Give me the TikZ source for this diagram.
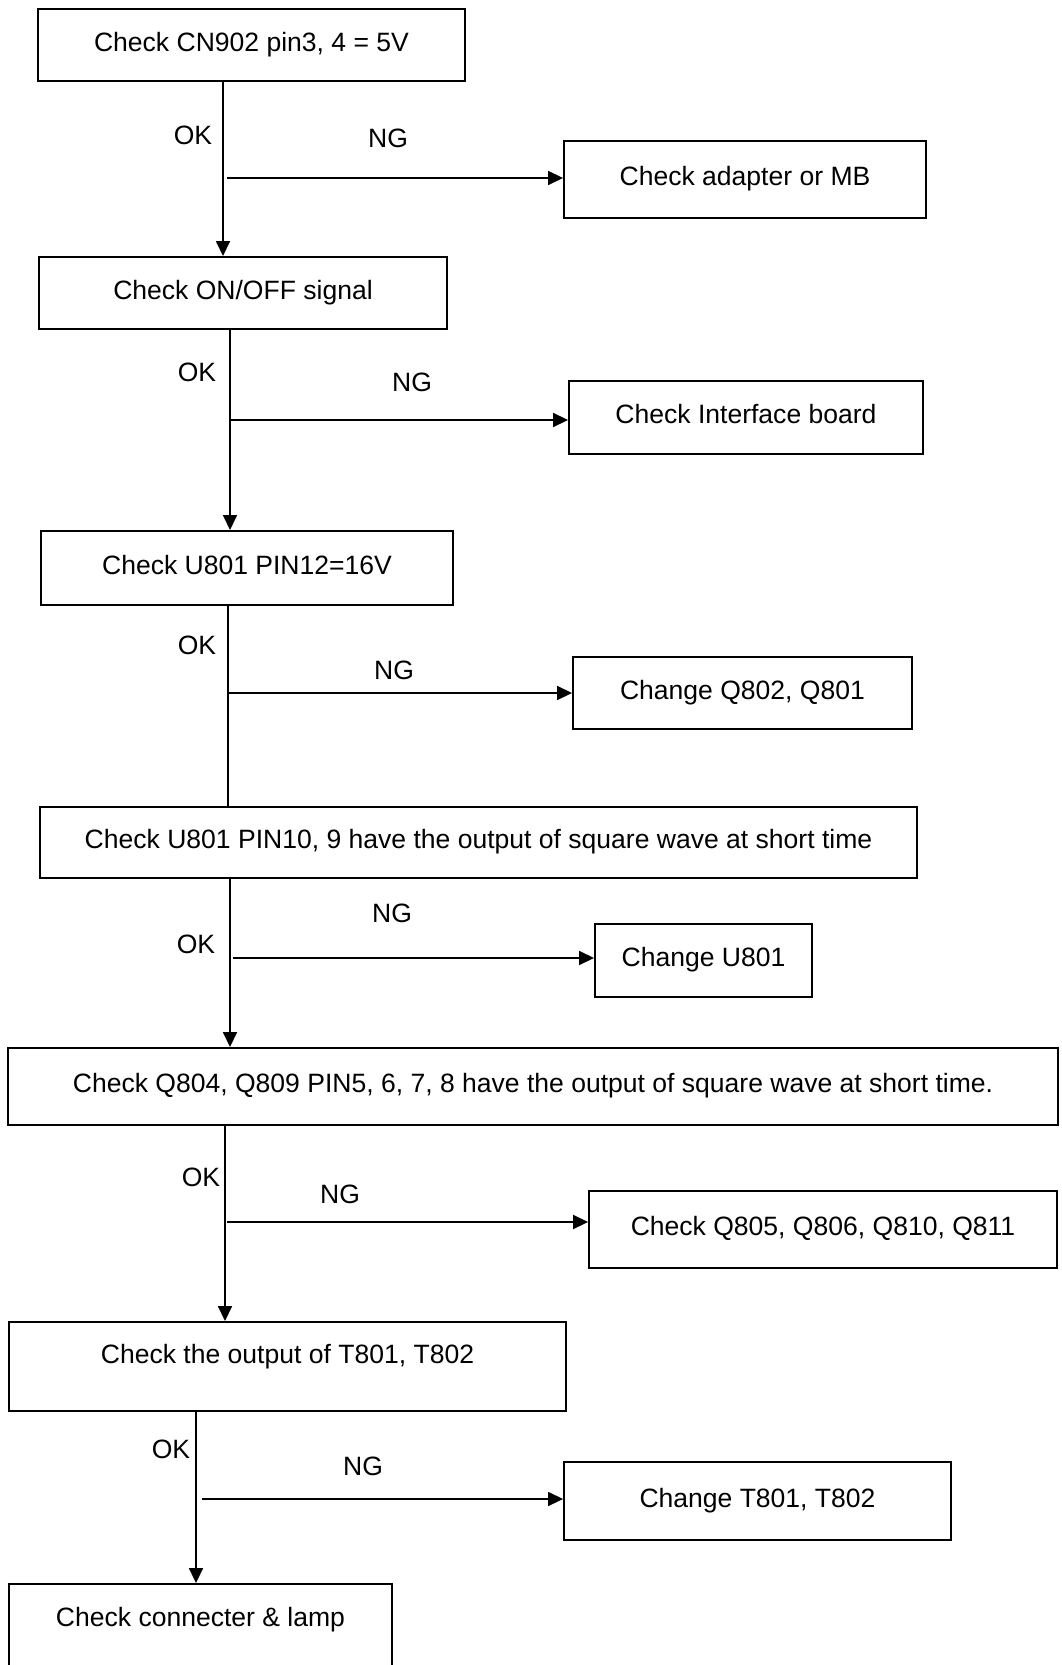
\documentclass[tikz,border=0pt]{standalone}
\usepackage{fontspec}
\setmainfont{Liberation Sans}
\usepackage{tikz}
\usetikzlibrary{arrows.meta, positioning, calc}

\begin{document}
\begin{tikzpicture}[x=0.02cm, y=-0.02cm,
    box/.style={draw, line width=1.1pt, inner sep=0pt, align=center,
                text height=0.72em, text depth=0pt,
                font=\fontsize{15.1}{17}\selectfont},
    lbl/.style={font=\fontsize{15.1}{17}\selectfont, inner sep=0pt},
    flow/.style={line width=0.9pt},
    flowarr/.style={line width=0.9pt, -{Triangle[length=0.3cm, width=0.28cm]}}]
  \useasboundingbox (0,0) rectangle (1061,1665);

  % Main column
  \node[box, minimum width=8.54cm,  minimum height=1.44cm] (cn902)  at (251.5,45)   {Check CN902 pin3, 4 = 5V};
  \node[box, minimum width=8.16cm,  minimum height=1.44cm] (onoff)  at (243,293)    {Check ON/OFF signal};
  \node[box, minimum width=8.24cm,  minimum height=1.48cm] (pin12)  at (247,568)    {Check U801 PIN12=16V};
  \node[box, minimum width=17.54cm, minimum height=1.42cm] (pin10)  at (478.5,842.5){Check U801 PIN10, 9 have the output of square wave at short time};
  \node[box, minimum width=21.0cm,  minimum height=1.54cm] (qpin)   at (533,1086.5) {Check Q804, Q809 PIN5, 6, 7, 8 have the output of square wave at short time.};
  \node[box, minimum width=11.14cm, minimum height=1.78cm, text depth=0.38cm] (tout) at (287.5,1366.5) {Check the output of T801, T802};
  \node[box, minimum width=7.66cm,  minimum height=1.72cm, text depth=0.28cm] (lamp) at (200.5,1627)   {Check connecter \& lamp};

  % NG column
  \node[box, minimum width=7.24cm, minimum height=1.54cm] (adapter) at (745,179.5)  {Check adapter or MB};
  \node[box, minimum width=7.08cm, minimum height=1.46cm] (iface)   at (746,417.5)  {Check Interface board};
  \node[box, minimum width=6.78cm, minimum height=1.44cm] (chq802)  at (742.5,693)  {Change Q802, Q801};
  \node[box, minimum width=4.34cm, minimum height=1.46cm] (chu801)  at (703.5,960.5){Change U801};
  \node[box, minimum width=9.36cm, minimum height=1.54cm] (chq805)  at (823,1229.5) {Check Q805, Q806, Q810, Q811};
  \node[box, minimum width=7.74cm, minimum height=1.56cm] (cht801)  at (757.5,1501) {Change T801, T802};

  % Branch points
  \coordinate (v1) at (223,0);
  \coordinate (v2) at (230,0);
  \coordinate (v3) at (228,0);
  \coordinate (v4) at (230,0);
  \coordinate (v5) at (225,0);
  \coordinate (v6) at (196,0);
  \coordinate (ng1) at (227,178);
  \coordinate (ng2) at (231,420);
  \coordinate (ng3) at (229,693);
  \coordinate (ng4) at (233,958);
  \coordinate (ng5) at (227,1222);
  \coordinate (ng6) at (202,1499);

  % OK path
  \draw[flowarr] (v1 |- cn902.south) -- (v1 |- onoff.north);
  \draw[flowarr] (v2 |- onoff.south) -- (v2 |- pin12.north);
  \draw[flow]    (v3 |- pin12.south) -- (v3 |- pin10.north);
  \draw[flowarr] (v4 |- pin10.south) -- (v4 |- qpin.north);
  \draw[flowarr] (v5 |- qpin.south)  -- (v5 |- tout.north);
  \draw[flowarr] (v6 |- tout.south)  -- (v6 |- lamp.north);

  % NG path
  \draw[flowarr] (ng1) -- (ng1 -| adapter.west);
  \draw[flowarr] (ng2) -- (ng2 -| iface.west);
  \draw[flowarr] (ng3) -- (ng3 -| chq802.west);
  \draw[flowarr] (ng4) -- (ng4 -| chu801.west);
  \draw[flowarr] (ng5) -- (ng5 -| chq805.west);
  \draw[flowarr] (ng6) -- (ng6 -| cht801.west);

  % Labels
  \node[lbl] (ok1) at (193,135)  {OK};
  \node[lbl] (no1) at (388,138)  {NG};
  \node[lbl] (ok2) at (197,372)  {OK};
  \node[lbl] (no2) at (412,382)  {NG};
  \node[lbl] (ok3) at (197,645)  {OK};
  \node[lbl] (no3) at (394,670)  {NG};
  \node[lbl] (ok4) at (196,944)  {OK};
  \node[lbl] (no4) at (392,913)  {NG};
  \node[lbl] (ok5) at (201,1177) {OK};
  \node[lbl] (no5) at (340,1194) {NG};
  \node[lbl] (ok6) at (171,1449) {OK};
  \node[lbl] (no6) at (363,1466) {NG};
\end{tikzpicture}
\end{document}
